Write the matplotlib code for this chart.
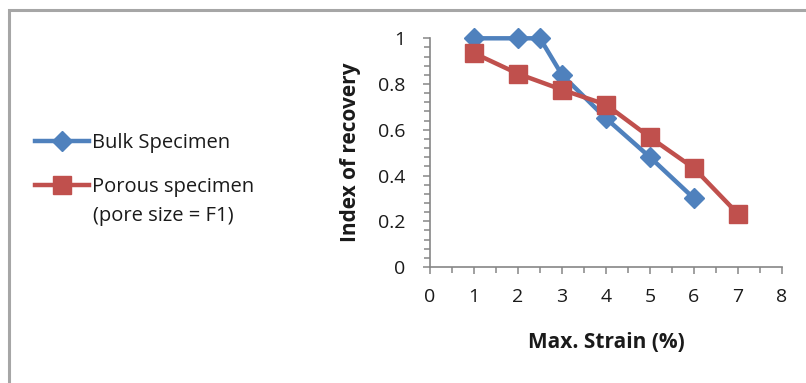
import matplotlib.pyplot as plt
from matplotlib.ticker import MultipleLocator
from matplotlib.patches import Rectangle

# recovery index vs. max strain
bulk_strain = [1, 2, 2.5, 3, 4, 5, 6]
bulk_index = [1.0, 1.0, 1.0, 0.84, 0.65, 0.48, 0.30]
porous_strain = [1, 2, 3, 4, 5, 6, 7]
porous_index = [0.935, 0.845, 0.775, 0.71, 0.567, 0.432, 0.232]

BLUE = '#4F81BD'
RED = '#C0504D'
TXT = '#1a1a1a'

plt.rcParams['font.family'] = ['Open Sans', 'DejaVu Sans']

fig = plt.figure(figsize=(8.06, 3.83), dpi=100)
ax = fig.add_axes([0.5335, 0.3029, 0.4367, 0.5971])

# chart area border
fig.add_artist(Rectangle((8.5 / 806, -0.1), 2.0, 1.1 - 9.5 / 383,
                         transform=fig.transFigure, fill=False,
                         edgecolor='#A6A6A6', lw=2.2, clip_on=False))

l1, = ax.plot(bulk_strain, bulk_index, color=BLUE, lw=3.2, marker='D',
              ms=10, zorder=3, clip_on=False)
l2, = ax.plot(porous_strain, porous_index, color=RED, lw=3.2, marker='s',
              ms=13, zorder=4, clip_on=False)

ax.set_xlim(0, 8)
ax.set_ylim(0, 1)
ax.xaxis.set_major_locator(MultipleLocator(1))
ax.xaxis.set_minor_locator(MultipleLocator(0.5))
ax.yaxis.set_minor_locator(MultipleLocator(0.04))
ax.set_yticks([0, 0.2, 0.4, 0.6, 0.8, 1.0])
ax.set_yticklabels(['0', '0.2', '0.4', '0.6', '0.8', '1'])

for s in ['top', 'right']:
    ax.spines[s].set_visible(False)
for s in ['left', 'bottom']:
    ax.spines[s].set_color('#868686')
    ax.spines[s].set_linewidth(1.2)

ax.tick_params(which='major', direction='out', length=5, width=1.1,
               color='#868686', labelsize=14, labelcolor=TXT)
ax.tick_params(which='minor', direction='out', length=4, width=1.1,
               color='#868686')
ax.tick_params(axis='x', which='major', pad=10)
ax.tick_params(axis='y', which='major', pad=13)

ax.set_xlabel('Max. Strain (%)', fontsize=15, fontweight='bold',
              labelpad=19, color=TXT)
ax.set_ylabel('Index of recovery', fontsize=15, fontweight='bold',
              labelpad=12, color=TXT)

fig.legend([l1, l2], ['Bulk Specimen', 'Porous specimen'],
           loc='upper left', bbox_to_anchor=(35 / 806, 1 - 133 / 383),
           frameon=False, fontsize=14.5, handlelength=2.7, handletextpad=0.15,
           labelspacing=1.2, borderaxespad=0, borderpad=0,
           labelcolor=TXT)
fig.text(93 / 806, 1 - 216 / 383, '(pore size = F1)', fontsize=14.5,
         va='center', ha='left', color=TXT)

fig.savefig('out.png', dpi=100)
